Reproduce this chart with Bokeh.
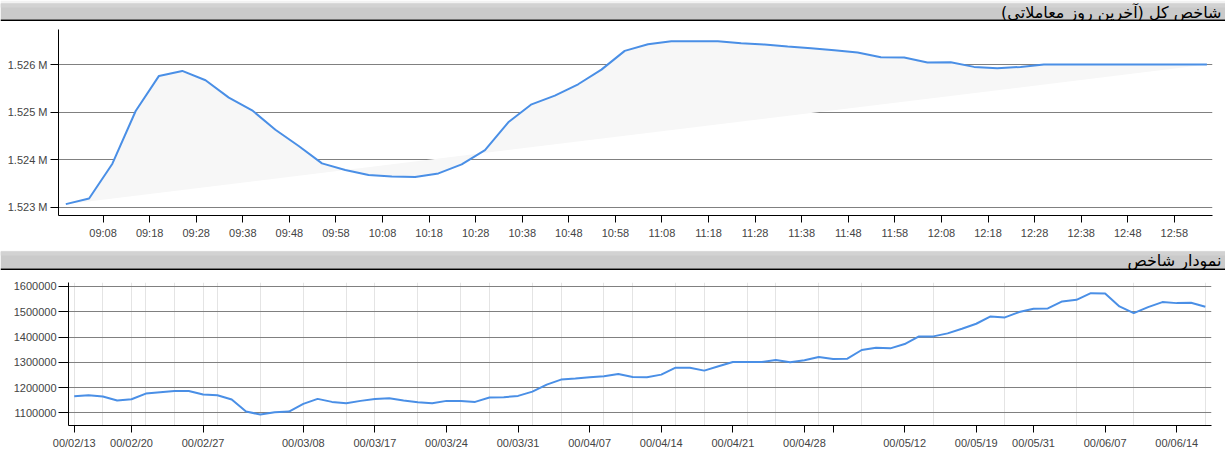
from bokeh.plotting import figure
from bokeh.layouts import column
from bokeh.models import FixedTicker, Range1d, BasicTickFormatter, BoxAnnotation
from bokeh.embed import file_html
from bokeh.resources import INLINE
from bokeh.core.properties import value

# ---------------- data ----------------
title_top = "شاخص کل (آخرین روز معاملاتی)\u200f"
title_bottom = "نمودار شاخص\u200f"

intraday_times = ["09:00", "09:05", "09:10", "09:15", "09:20", "09:25", "09:30", "09:35",
                  "09:40", "09:45", "09:50", "09:55", "10:00", "10:05", "10:10", "10:15",
                  "10:20", "10:25", "10:30", "10:35", "10:40", "10:45", "10:50", "10:55",
                  "11:00", "11:05", "11:10", "11:15", "11:20", "11:25", "11:30", "11:35",
                  "11:40", "11:45", "11:50", "11:55", "12:00", "12:05", "12:10", "12:15",
                  "12:20", "12:25", "12:30", "12:35", "12:40", "12:45", "12:50", "12:55",
                  "13:00", "13:05"]
intraday_values = [1523063, 1523183, 1523914, 1525024, 1525762, 1525867, 1525670, 1525305,
                   1525038, 1524630, 1524286, 1523921, 1523780, 1523675, 1523647, 1523632,
                   1523710, 1523900, 1524202, 1524785, 1525164, 1525347, 1525586, 1525895,
                   1526289, 1526429, 1526493, 1526493, 1526493, 1526450, 1526422, 1526380,
                   1526345, 1526303, 1526254, 1526155, 1526148, 1526043, 1526050, 1525952,
                   1525923, 1525952, 1526001, 1526001, 1526001, 1526001, 1526001, 1526001,
                   1526001, 1526001]
intraday_tick_labels = ["09:08", "09:18", "09:28", "09:38", "09:48", "09:58", "10:08", "10:18",
                        "10:28", "10:38", "10:48", "10:58", "11:08", "11:18", "11:28", "11:38",
                        "11:48", "11:58", "12:08", "12:18", "12:28", "12:38", "12:48", "12:58"]
intraday_y_ticks = [1523000, 1524000, 1525000, 1526000]

daily_values = [1165800, 1169700, 1164500, 1148700, 1153900, 1176300, 1181600, 1186800,
                1186800, 1172400, 1169700, 1152600, 1105300, 1093400, 1102600, 1105300,
                1135500, 1155300, 1143400, 1138200, 1147400, 1155300, 1157900, 1148700,
                1142100, 1138200, 1147400, 1147400, 1143400, 1160500, 1161800, 1167100,
                1184200, 1211800, 1231600, 1235500, 1240800, 1244700, 1253900, 1242100,
                1240800, 1251300, 1278900, 1278900, 1267100, 1284200, 1301300, 1301300,
                1301300, 1309200, 1300000, 1307900, 1321100, 1313200, 1314500, 1348700,
                1357900, 1355300, 1372400, 1402600, 1402600, 1414500, 1432900, 1452600,
                1481600, 1477600, 1498700, 1511800, 1513200, 1540800, 1547400, 1573700,
                1572400, 1521100, 1494700, 1518400, 1538200, 1534200, 1535500, 1519700]
daily_tick_pos = [0, 4, 9, 16, 21, 26, 31, 36, 41, 46, 51, 53, 58, 63, 67, 72, 77]
daily_tick_labels = ["00/02/13", "00/02/20", "00/02/27", "00/03/08", "00/03/17", "00/03/24",
                     "00/03/31", "00/04/07", "00/04/14", "00/04/21", "00/04/28", "",
                     "00/05/12", "00/05/19", "00/05/31", "00/06/07", "00/06/14"]
daily_grid_pos = [0, 2, 4, 5, 7, 9, 10, 13, 16, 19, 21, 24, 27, 29, 32, 34, 37, 39, 42, 44,
                  47, 49, 52, 55, 60, 65, 70, 74, 79]
daily_y_ticks = [1100000, 1200000, 1300000, 1400000, 1500000, 1600000]

# ---------------- helpers ----------------
def to_min(t):
    h, m = t.split(":")
    return (int(h) - 9) * 60 + int(m)

W = 1225
LINE = "#4a8fe6"
LABEL_FONT = "Liberation Sans"
LABEL_COLOR = "#444444"
PANEL_BORDER = "#c4c4c4"


def title_bar(text, h, bar_top, text_y):
    # y_range in pixel-like units, measured from the bottom of the strip
    t = figure(width=W, height=h, x_range=Range1d(0, W), y_range=Range1d(0, h),
               x_axis_type=None, y_axis_type=None, toolbar_location=None,
               output_backend="svg", min_border_left=0, min_border_right=0,
               min_border_top=0, min_border_bottom=0, frame_align=False)
    t.background_fill_color = "#ffffff"
    t.border_fill_color = "#ffffff"
    t.outline_line_color = None
    t.quad(left=[0], right=[W], bottom=[bar_top], top=[h], fill_color="#f2f2f2", line_color=None)
    t.quad(left=[0], right=[W], bottom=[2], top=[bar_top], fill_color="#cacaca", line_color=None)
    t.quad(left=[0], right=[W], bottom=[bar_top - 4], top=[bar_top], fill_color="#d2d2d2", line_color=None)
    t.quad(left=[0], right=[W], bottom=[0], top=[2], fill_color="#000000", line_color=None)
    t.text(x=[W - 4], y=[text_y], text=[text], text_align="right", text_baseline="middle",
           text_font=value("DejaVu Sans"), text_font_size="16px", text_color="#000000")
    return t


def style_axes(p, ytick_out, xtick_out):
    for ax in (p.xaxis[0], p.yaxis[0]):
        ax.axis_line_color = "#000000"
        ax.major_tick_line_color = "#000000"
        ax.minor_tick_line_color = None
        ax.major_tick_in = 0
        ax.major_label_text_font = LABEL_FONT
        ax.major_label_text_font_size = "11px"
        ax.major_label_text_color = LABEL_COLOR
    p.yaxis[0].major_tick_out = ytick_out
    p.xaxis[0].major_tick_out = xtick_out
    p.yaxis[0].major_label_standoff = 3
    p.xaxis[0].major_label_standoff = 4


def panel_border(p, bottom):
    p.add_layout(BoxAnnotation(left=0.5, right=1220.5, top=-10, bottom=bottom,
                               left_units="canvas", right_units="canvas",
                               top_units="canvas", bottom_units="canvas",
                               fill_color=None, fill_alpha=0, line_color=PANEL_BORDER,
                               line_width=1, border_radius=6))


# ---------------- top chart ----------------
t1 = title_bar(title_top, 21, 18, 9.5)

xm = [to_min(t) for t in intraday_times]
p1 = figure(width=W, height=229, x_range=Range1d(-1.57, 246.2),
            y_range=Range1d(1522824, 1526739), toolbar_location=None, output_backend="svg",
            min_border_left=58, min_border_right=13, min_border_top=8, min_border_bottom=35,
            frame_align=False)
p1.outline_line_color = None
p1.xgrid.visible = False
p1.ygrid.grid_line_color = "#808080"
p1.ygrid.grid_line_width = 1
p1.patch(xm, intraday_values, fill_color="#f7f7f7", line_color=None)
p1.line(xm, intraday_values, line_color=LINE, line_width=2)
style_axes(p1, 8, 7)
p1.xaxis[0].ticker = FixedTicker(ticks=[to_min(t) for t in intraday_tick_labels])
p1.xaxis[0].major_label_overrides = {to_min(t): t for t in intraday_tick_labels}
p1.yaxis[0].ticker = FixedTicker(ticks=intraday_y_ticks)
p1.yaxis[0].major_label_overrides = {v: f"{v / 1e6:.3f} M" for v in intraday_y_ticks}
p1.ygrid.ticker = FixedTicker(ticks=intraday_y_ticks)
panel_border(p1, 227.5)

# ---------------- bottom chart ----------------
t2 = title_bar(title_bottom, 20, 19, 10.5)

xi = list(range(len(daily_values)))
p2 = figure(width=W, height=187, x_range=Range1d(-0.4, 79.43),
            y_range=Range1d(1050000, 1615800), toolbar_location=None, output_backend="svg",
            min_border_left=68, min_border_right=14, min_border_top=12, min_border_bottom=32,
            frame_align=False)
p2.outline_line_color = None
p2.xgrid.ticker = FixedTicker(ticks=daily_grid_pos)
p2.xgrid.grid_line_color = "#e4e4e4"
p2.ygrid.grid_line_color = "#808080"
p2.ygrid.ticker = FixedTicker(ticks=daily_y_ticks)
p2.line(xi, daily_values, line_color=LINE, line_width=2)
style_axes(p2, 10, 7)
p2.yaxis[0].major_label_standoff = 2
p2.xaxis[0].ticker = FixedTicker(ticks=daily_tick_pos)
p2.xaxis[0].major_label_overrides = {pos: lab for pos, lab in zip(daily_tick_pos, daily_tick_labels)}
p2.yaxis[0].ticker = FixedTicker(ticks=daily_y_ticks)
p2.yaxis[0].formatter = BasicTickFormatter(use_scientific=False)
panel_border(p2, 400)

layout = column(t1, p1, t2, p2, spacing=0)
open("out.html", "w").write(file_html(layout, INLINE))
